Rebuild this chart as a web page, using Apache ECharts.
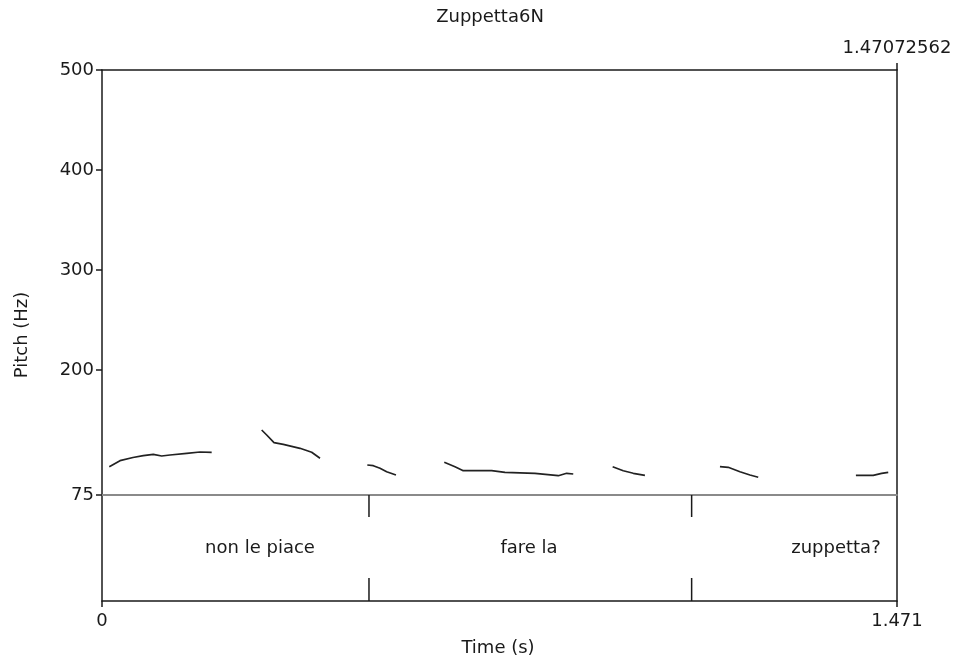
<!DOCTYPE html>
<html>
<head>
<meta charset="utf-8">
<title>Zuppetta6N</title>
<script src="https://cdn.jsdelivr.net/npm/echarts@6/dist/echarts.min.js"></script>
<style>
html, body { margin: 0; padding: 0; background: #fff; }
#chart { width: 959px; height: 662px; }
</style>
</head>
<body>
<div id="chart"></div>
<script>
// total duration of the sound (s)
var duration = 1.47072562;

// pitch contour, one pair of arrays per voiced stretch (time s / pitch Hz)
var seg1Time  = [0.0135, 0.0333, 0.0573, 0.0764, 0.0949, 0.1104, 0.1258, 0.1567, 0.1813, 0.2029];
var seg1Pitch = [103.3, 109.3, 112.5, 114.3, 115.7, 114.0, 115.0, 116.7, 118.0, 117.7];
var seg2Time  = [0.2954, 0.3047, 0.3182, 0.3354, 0.3663, 0.3879, 0.4033];
var seg2Pitch = [140.0, 135.0, 127.3, 125.7, 121.7, 117.7, 111.7];
var seg3Time  = [0.4908, 0.5019, 0.5143, 0.5266, 0.5438];
var seg3Pitch = [105.0, 104.3, 101.7, 98.3, 95.0];
var seg4Time  = [0.6332, 0.6530, 0.6683, 0.6961, 0.7209, 0.7455, 0.8010, 0.8441, 0.8596, 0.8718];
var seg4Pitch = [107.7, 103.3, 99.3, 99.3, 99.3, 97.7, 96.7, 94.3, 96.7, 96.0];
var seg5Time  = [0.9447, 0.9643, 0.9828, 1.0044];
var seg5Pitch = [103.3, 99.3, 96.7, 94.7];
var seg6Time  = [1.1432, 1.1585, 1.1802, 1.1987, 1.2140];
var seg6Pitch = [103.3, 102.7, 98.3, 95.0, 92.7];
var seg7Time  = [1.3947, 1.4267, 1.4423, 1.4545];
var seg7Pitch = [94.7, 94.7, 96.7, 97.7];

// pitch axis
var pitchMin = 75;
var pitchMax = 500;
var pitchTicks = [75, 200, 300, 400, 500];

// text tier
var boundaryTimes = [0.4939, 1.0908];
var tierLabels = ['non le piace', 'fare la', 'zuppetta?'];
var tierLabelTimes = [0.2923, 0.7899, 1.3578];

// time axis ticks
var timeTicks = [0, duration];
var timeTickLabels = ['0', '1.471'];

var segTimes = [seg1Time, seg2Time, seg3Time, seg4Time, seg5Time, seg6Time, seg7Time];
var segPitches = [seg1Pitch, seg2Pitch, seg3Pitch, seg4Pitch, seg5Pitch, seg6Pitch, seg7Pitch];

var FONT = '"DejaVu Sans", sans-serif';
var FS = 18;
var INK = '#1a1a1a';

var myChart = echarts.init(document.getElementById('chart'));

var series = [];
for (var i = 0; i < segTimes.length; i++) {
    var pts = [];
    for (var j = 0; j < segTimes[i].length; j++) {
        pts.push([segTimes[i][j], segPitches[i][j]]);
    }
    series.push({
        type: 'line',
        xAxisIndex: 0,
        yAxisIndex: 0,
        data: pts,
        symbol: 'none',
        smooth: false,
        lineStyle: { color: '#222', width: 1.7 },
        silent: true,
        z: 3
    });
}

// interval boundaries: short marks at top and bottom of the tier
series.push({
    type: 'custom',
    xAxisIndex: 2,
    yAxisIndex: 2,
    data: boundaryTimes.map(function (t) { return [t]; }),
    renderItem: function (params, api) {
        var top = api.coord([api.value(0), 1]);
        var bot = api.coord([api.value(0), 0]);
        var st = { stroke: INK, lineWidth: 1.5 };
        return {
            type: 'group',
            children: [
                { type: 'line', shape: { x1: top[0], y1: top[1], x2: top[0], y2: top[1] + 22 }, style: st },
                { type: 'line', shape: { x1: bot[0], y1: bot[1] - 23, x2: bot[0], y2: bot[1] }, style: st }
            ]
        };
    },
    silent: true
});

// interval texts
series.push({
    type: 'custom',
    xAxisIndex: 2,
    yAxisIndex: 2,
    data: tierLabels.map(function (s, k) { return [tierLabelTimes[k], 0.5]; }),
    renderItem: function (params, api) {
        var p = api.coord([api.value(0), api.value(1)]);
        return {
            type: 'text',
            x: p[0], y: p[1],
            style: {
                text: tierLabels[params.dataIndex],
                align: 'center', verticalAlign: 'middle',
                fill: INK, font: FS + 'px ' + FONT
            }
        };
    },
    silent: true
});

myChart.setOption({
    animation: false,
    backgroundColor: '#fff',
    grid: [
        { left: 102, right: 62, top: 70, bottom: 167 },
        { left: 102, right: 62, top: 495, bottom: 61 }
    ],
    xAxis: [
        {   // 75 Hz baseline
            type: 'value', gridIndex: 0, min: 0, max: duration,
            axisLine: { show: true, onZero: false, lineStyle: { color: '#8a8a8a', width: 2 } },
            axisTick: { show: false }, axisLabel: { show: false }, splitLine: { show: false }
        },
        {   // top frame with total duration
            type: 'value', gridIndex: 0, position: 'top', min: 0, max: duration,
            axisLine: { show: true, onZero: false, lineStyle: { color: INK, width: 1.5 } },
            axisTick: { show: true, customValues: [duration], length: 7, lineStyle: { color: INK, width: 1.5 } },
            axisLabel: {
                show: true, customValues: [duration], showMaxLabel: true, margin: 13,
                formatter: function () { return '1.47072562'; },
                color: INK, fontFamily: FONT, fontSize: FS
            },
            splitLine: { show: false }
        },
        {   // time axis under the tier
            type: 'value', gridIndex: 1, min: 0, max: duration,
            axisLine: { show: true, onZero: false, lineStyle: { color: INK, width: 1.5 } },
            axisTick: { show: true, customValues: timeTicks, length: 6, lineStyle: { color: INK, width: 1.5 } },
            axisLabel: {
                show: true, customValues: timeTicks, showMinLabel: true, showMaxLabel: true, margin: 11,
                formatter: function (v) { return v === 0 ? timeTickLabels[0] : timeTickLabels[1]; },
                color: INK, fontFamily: FONT, fontSize: FS
            },
            splitLine: { show: false }
        }
    ],
    yAxis: [
        {
            type: 'value', gridIndex: 0, min: pitchMin, max: pitchMax,
            axisLine: { show: true, onZero: false, lineStyle: { color: INK, width: 1.5 } },
            axisTick: { show: true, customValues: pitchTicks, length: 6, lineStyle: { color: INK, width: 1.5 } },
            axisLabel: {
                show: true, customValues: pitchTicks, showMinLabel: true, showMaxLabel: true, margin: 8,
                color: INK, fontFamily: FONT, fontSize: FS
            },
            splitLine: { show: false }
        },
        {
            type: 'value', gridIndex: 0, position: 'right', min: pitchMin, max: pitchMax,
            axisLine: { show: true, onZero: false, lineStyle: { color: INK, width: 1.5 } },
            axisTick: { show: false }, axisLabel: { show: false }, splitLine: { show: false }
        },
        {
            type: 'value', gridIndex: 1, min: 0, max: 1,
            axisLine: { show: true, onZero: false, lineStyle: { color: INK, width: 1.5 } },
            axisTick: { show: false }, axisLabel: { show: false }, splitLine: { show: false }
        },
        {
            type: 'value', gridIndex: 1, position: 'right', min: 0, max: 1,
            axisLine: { show: true, onZero: false, lineStyle: { color: INK, width: 1.5 } },
            axisTick: { show: false }, axisLabel: { show: false }, splitLine: { show: false }
        }
    ],
    graphic: [
        {
            type: 'text', x: 490, y: 17,
            style: { text: 'Zuppetta6N', align: 'center', verticalAlign: 'middle', fill: INK, font: FS + 'px ' + FONT }
        },
        {
            type: 'text', x: 22, y: 335, rotation: Math.PI / 2,
            style: { text: 'Pitch (Hz)', align: 'center', verticalAlign: 'middle', fill: INK, font: FS + 'px ' + FONT }
        },
        {
            type: 'text', x: 498, y: 648,
            style: { text: 'Time (s)', align: 'center', verticalAlign: 'middle', fill: INK, font: FS + 'px ' + FONT }
        }
    ],
    series: series
});
</script>
</body>
</html>
